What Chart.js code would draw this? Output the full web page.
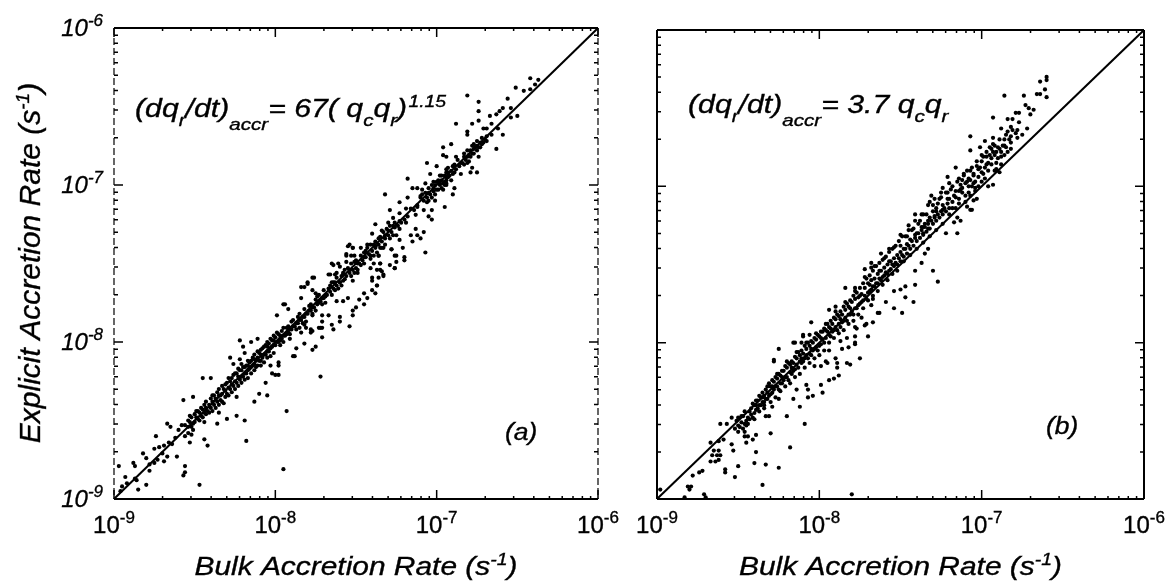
<!DOCTYPE html>
<html>
<head>
<meta charset="utf-8">
<style>
  html, body { margin: 0; padding: 0; background: #fff; overflow: hidden; }
  .panel { position: absolute; top: 0; height: 586px; }
  #chartA { left: 0; width: 625px; }
  #chartB { left: 625px; width: 549px; }
</style>
<script src="https://cdn.jsdelivr.net/npm/chart.js@4"></script>
</head>
<body>
<div class="panel" id="chartA"><canvas id="canvasA"></canvas></div>
<div class="panel" id="chartB"><canvas id="canvasB"></canvas></div>
<script>
// points are [bulk, explicit] in decades above 1e-9
const outliersA = [
  [.03,.21],[.12,.23],[.13,.21],[.18,.29],[.20,.26],[.07,.14],[.05,.08],[.04,.05],[.13,.13],[.15,.06],
  [.20,.09],[.22,.18],[.25,.23],[.31,.24],[.33,.27],[.25,.32],[.28,.33],[.31,.34],[.26,.40],[.33,.48],
  [.35,.46],[.36,.35],[.39,.27],[.44,.21],[.44,.17],[.43,.15],[.53,.09],[1.05,.19],[.82,.37],[.56,.38],
  [.58,.34],[.47,.36],[.46,.42],[.48,.41],[.56,.49],[.64,.48],[.70,.51],[.76,.53],[.81,.50],[1.07,.56],
  [.87,.62],[.90,.67],[.95,.66],[.76,.65],[.68,.61],[.65,.55],[.94,.74],[1.28,.78],[1.00,.79],[1.02,.79],
  [.98,.80],[.97,.85],[1.02,.85],[1.02,.87],[1.11,.91],[1.12,.91],[1.13,.96],[1.18,.99],[1.23,.95],[1.25,.97],
  [1.29,1.03],[1.16,1.06],[1.19,1.09],[1.23,1.07],[1.28,1.09],[1.35,1.11],[1.33,1.17],[1.06,1.24],[1.01,1.17],
  [.78,1.01],[.85,1.00],[.81,.93],[.72,.90],[.74,.86],[.78,.89],[.55,.77],[.60,.77],[.43,.63],[.49,.65],
  [1.18,1.11],[1.22,1.08],[1.22,1.06],[1.27,1.09],[1.29,1.09],[1.36,1.08],[1.40,1.13],[1.40,1.16],[1.46,1.10],
  [1.29,1.13],[1.29,1.17],[1.23,1.17],[1.48,1.17],[1.48,1.20],[1.50,1.22],[1.55,1.24],[1.42,1.26],[1.38,1.26],
  [1.45,1.28],[1.55,1.31],[1.52,1.27],[1.57,1.28],[1.60,1.33],[1.63,1.36],[1.62,1.31],[1.60,1.41],[1.67,1.42],
  [1.63,1.46],[1.66,1.45],[1.74,1.47],[1.71,1.49],[1.61,1.50],[1.65,1.50],[1.64,1.55],[1.72,1.59],[1.75,1.55],
  [1.46,1.62],[1.48,1.60],[1.44,1.56],[1.47,1.55],[1.35,1.50],[1.39,1.50],[1.33,1.43],[1.37,1.43],[1.24,1.41],
  [1.20,1.37],[1.18,1.35],[1.23,1.33],[1.25,1.31],[1.16,1.28],[1.05,1.24],[1.08,1.21],[.89,1.02],[.80,.97]
];
const upperA = [
  [2.58,2.68],[2.63,2.67],[2.49,2.62],[2.54,2.60],[2.58,2.61],[2.61,2.64],[2.19,2.57],[2.26,2.53],[2.26,2.47],
  [2.44,2.55],[2.41,2.49],[2.39,2.47],[2.46,2.49],[2.37,2.45],[2.33,2.44],[2.46,2.43],[2.50,2.44],[2.26,2.41],
  [2.22,2.39],[2.12,2.39],[2.34,2.39],[2.31,2.36],[2.29,2.36],[2.38,2.36],[2.41,2.32],[2.19,2.34],[2.19,2.32],
  [2.37,2.23],[2.28,2.30],[2.25,2.28],[2.22,2.25],[2.19,2.22],[2.31,2.28],[2.04,2.24],[2.09,2.26],[2.04,2.19],
  [2.06,2.18],[2.12,2.18],[2.17,2.20],[2.23,2.23],[2.26,2.18],[2.20,2.15],[2.17,2.13],[2.22,2.11],[2.25,2.08],
  [2.21,2.08],[2.15,2.07],[1.94,2.14],[2.00,2.12],[2.06,2.10],[2.10,2.12],[1.96,2.07],[2.02,2.06],[2.06,2.05],
  [1.98,2.02],[2.02,2.01],[2.06,2.01],[1.93,2.01],[1.82,2.04],[1.88,1.98],[1.85,1.98],[1.68,1.94],[1.98,1.98],
  [2.04,1.97],[2.11,1.98],[2.10,1.94],[2.06,2.00],[1.95,1.95],[1.90,1.93],[1.82,1.92],[1.77,1.89],[1.99,1.90],
  [1.94,1.89],[1.88,1.87],[1.81,1.85],[1.71,1.84],[2.05,1.86],[1.97,1.84],[1.92,1.84],[1.77,1.82],[1.87,1.81],
  [1.95,1.80],[1.97,1.78],[1.73,1.79],[1.70,1.76],[1.77,1.77],[1.81,1.76],[1.87,1.72],[1.62,1.75],[1.66,1.71],
  [1.70,1.71],[1.74,1.73],[1.77,1.72],[1.60,1.69],[1.68,1.68],[1.75,1.68],[1.84,1.68],[1.88,1.68],[1.92,1.70],
  [1.64,1.66],[1.77,1.65],[1.85,1.64],[1.90,1.66],[1.57,1.62],[1.62,1.61],[1.66,1.60],[1.79,1.60],[1.72,1.59],
  [1.45,1.61],[1.48,1.60],[1.53,1.60],[1.93,1.57],[1.64,1.55],[1.74,1.55],[1.80,1.54],[1.44,1.55],[1.49,1.55],
  [1.55,1.54],[1.59,1.55],[1.75,1.51],[1.80,1.52],[1.44,1.51],[1.51,1.50],[1.65,1.50],[1.74,1.47],[1.36,1.49],
  [1.40,1.48],[1.46,1.46],[1.59,1.47],[1.65,1.46],[1.67,1.43],[1.34,1.43],[1.38,1.44],[1.42,1.43],[1.51,1.44],
  [1.23,1.41],[1.20,1.38],[1.36,1.38],[1.40,1.38],[1.48,1.39],[1.63,1.36],[1.60,1.39],[1.64,1.41],[1.16,1.35]
];
const bandA = [
  [.08,.10],[.14,.12],[.22,.22],[.27,.25],[.30,.29],[.34,.36],[.38,.39],[.40,.44],[.42,.47],[.44,.47],[.46,.50],
  [.48,.46],[.48,.52],[.50,.49],[.50,.54],[.52,.51],[.54,.53],[.54,.58],[.56,.55],[.56,.60],[.58,.56],[.60,.58],
  [.60,.64],[.62,.60],[.62,.66],[.64,.62],[.64,.68],[.66,.63],[.66,.66],[.68,.70],[.70,.67],[.70,.74],[.72,.70],
  [.72,.75],[.74,.72],[.74,.79],[.76,.74],[.76,.80],[.78,.76],[.78,.82],[.80,.78],[.80,.84],[.82,.80],[.82,.85],
  [.84,.83],[.84,.87],[.86,.85],[.86,.90],[.88,.84],[.88,.88],[.90,.88],[.90,.93],[.92,.90],[.92,.96],[.94,.92],
  [.94,.98],[.96,.94],[.96,.99],[.98,.97],[.98,1.01],[1.00,.98],[1.00,1.03],[1.02,1.00],[1.02,1.05],[1.04,1.02],
  [1.04,1.07],[1.06,1.04],[1.08,1.06],[1.08,1.10],[1.10,1.08],[1.10,1.13],[1.12,1.10],[1.14,1.12],[1.14,1.16],
  [1.16,1.14],[1.18,1.16],[1.18,1.21],[1.20,1.18],[1.22,1.20],[1.22,1.24],[1.24,1.22],[1.26,1.24],[1.26,1.29],
  [1.28,1.26],[1.30,1.28],[1.30,1.33],[1.32,1.30],[1.34,1.32],[1.34,1.36],[1.36,1.34],[1.38,1.36],[1.38,1.41],
  [1.40,1.38],[1.42,1.39],[1.42,1.44],[1.44,1.42],[1.46,1.44],[1.48,1.46],[1.50,1.47],[1.50,1.52],[1.52,1.50],
  [1.54,1.52],[1.56,1.54],[1.56,1.58],[1.58,1.56],[1.60,1.58],[1.62,1.60],[1.62,1.64],[1.64,1.62],[1.66,1.64],
  [1.68,1.66],[1.68,1.62],[1.70,1.68],[1.72,1.70],[1.74,1.76],[1.76,1.74],[1.78,1.76],[1.80,1.78],[1.82,1.80],
  [1.84,1.85],[1.86,1.84],[1.88,1.86],[1.90,1.92],[1.92,1.90],[1.94,1.92],[1.96,1.94],[1.98,1.96],[2.00,2.02],
  [2.00,1.97],[2.02,2.00],[2.03,2.03],[2.04,2.01],[2.06,2.03],[2.06,2.08],[2.08,2.06],[2.10,2.07],[2.12,2.10],
  [2.14,2.12],[2.16,2.14],[2.18,2.16],[2.20,2.19],[2.22,2.20],[2.24,2.24],[2.26,2.24],[2.28,2.26],[2.30,2.29],[2.34,2.32]
];
const coreA = [
  [.44,.40],[.46,.46],[.47,.53],[.49,.48],[.51,.52],[.52,.56],[.53,.50],[.55,.57],[.57,.54],[.57,.62],[.59,.60],
  [.61,.56],[.61,.66],[.63,.64],[.65,.60],[.65,.70],[.67,.67],[.69,.65],[.69,.73],[.71,.71],[.73,.68],[.73,.77],
  [.75,.75],[.77,.72],[.77,.83],[.79,.78],[.79,.86],[.81,.80],[.81,.76],[.83,.82],[.83,.88],[.85,.84],[.85,.80],
  [.87,.86],[.87,.92],[.89,.90],[.89,.85],[.91,.88],[.91,.95],[.93,.92],[.93,.87],[.95,.94],[.95,1.00],[.97,.96],
  [.97,.91],[.99,.98],[.99,1.04],[1.01,1.00],[1.03,1.04],[1.03,.98],[1.05,1.04],[1.05,1.09],[1.07,1.05],[1.09,1.08],
  [1.09,1.02],[1.11,1.10],[1.13,1.12],[1.15,1.14],[1.15,1.09],[1.17,1.16],[1.19,1.18],[1.19,1.13],[1.21,1.20],
  [1.23,1.22],[1.25,1.20],[1.25,1.27],[1.27,1.25],[1.29,1.24],[1.31,1.29],[1.33,1.34],[1.35,1.30],[1.37,1.38],
  [1.39,1.34],[1.41,1.42],[1.43,1.40],[1.45,1.47],[1.47,1.42],[1.49,1.51],[1.51,1.46],[1.53,1.55],[1.55,1.50],
  [1.57,1.60],[1.59,1.53],[1.61,1.62],[1.63,1.57],[1.65,1.67],[1.67,1.60],[1.69,1.72],[1.71,1.66],[1.73,1.74],
  [1.91,1.94],[1.93,1.95],[1.95,1.98],[1.97,1.92],[1.99,2.00],[2.01,2.03],[2.03,1.98],[2.05,2.06],[2.05,2.02],
  [2.07,2.05],[2.07,2.11],[2.09,2.09],[2.11,2.13],[2.15,2.14],[2.17,2.18],[2.19,2.18],[2.21,2.22],[2.23,2.20],
  [2.25,2.25],[2.27,2.27],[2.29,2.27],[2.31,2.31]
];
const fillA = [
  [.47,.49],[.49,.44],[.51,.56],[.53,.55],[.55,.52],[.57,.58],[.59,.55],[.61,.62],[.63,.58],[.65,.66],[.67,.62],
  [.67,.72],[.69,.69],[.71,.66],[.71,.77],[.73,.73],[.75,.70],[.75,.80],[.77,.78],[.79,.74],[.79,.82],[.81,.84],
  [.83,.77],[.83,.85],[.85,.88],[.87,.82],[.87,.89],[.89,.94],[.91,.85],[.91,.92],[.93,.97],[.95,.90],[.95,.97],
  [.97,1.02],[.99,.93],[.99,1.01],[1.01,1.06],[1.03,1.01],[1.05,1.00],[1.07,1.09],[1.09,1.05],[1.11,1.14],[1.13,1.08],
  [1.15,1.18],[1.17,1.12],[1.21,1.23],[1.23,1.18],[1.27,1.30],[1.29,1.28],[1.31,1.25],[1.35,1.38],[1.37,1.33],
  [1.41,1.36],[1.43,1.46],[1.47,1.50],[1.49,1.44],[1.53,1.49],[1.55,1.57],[1.59,1.62],[1.61,1.55],[1.65,1.60],
  [1.67,1.70],[1.71,1.74],[1.73,1.68],[1.91,1.97],[1.95,1.90],[1.97,2.00],[1.99,1.94],[2.01,1.97],[2.03,2.06],
  [2.05,2.00],[2.07,2.08],[2.09,2.03],[2.11,2.08],[2.13,2.16],[2.19,2.14],[2.21,2.18],[2.23,2.26],[2.25,2.22],[2.27,2.24]
];
const outliersB = [
  [.02,.06],[.17,.01],[.29,.03],[.30,.01],[.19,.08],[.21,.08],[.20,.06],[.22,.15],[.26,.17],[.28,.18],[.33,.24],
  [.36,.24],[.38,.25],[.34,.28],[.37,.28],[.39,.28],[.33,.36],[.35,.31],[.38,.31],[.38,.37],[.41,.38],[.42,.17],
  [.42,.19],[.48,.14],[.50,.21],[.60,.23],[.67,.22],[.75,.20],[.65,.09],[1.20,.03],[.61,.30],[.47,.31],[.46,.35],
  [.55,.36],[.56,.40],[.61,.41],[.59,.38],[.70,.42],[.82,.33],[.91,.48],[.80,.53],[.88,.59],[.39,.48],[.43,.48],
  [.46,.52],[.50,.43],[.54,.43],[.54,.40],[.69,.53],[.67,.53],[.71,.59],[.66,.60],[.75,.64],[.84,.64],[.93,.65],
  [.96,.66],[.93,.70],[.86,.70],[1.02,.68],[1.01,.73],[.92,.73],[1.06,.76],[1.09,.77],[1.12,.79],[1.11,.84],
  [1.11,.87],[1.10,.90],[1.19,.86],[1.25,.90],[.97,.85],[1.01,.85],[1.04,.88],[.72,.88],[.75,.96],[.85,1.00],
  [.89,1.00],[.94,1.05],[.90,1.05],[.95,1.13],[1.06,.95],[1.14,.96],[1.17,1.03],[1.22,1.00],[1.30,1.04],[1.23,1.09],
  [1.28,1.11],[1.33,1.13],[1.37,1.19],[1.46,1.22],[1.51,1.19],[1.58,1.26],[.72,.89],[.84,1.00],[.90,1.04],[1.17,.87],
  [1.05,.87],[1.18,.97],[1.22,.99],[1.13,1.01],[1.22,1.04],[1.22,1.10],[1.29,1.12],[1.26,1.16],[1.36,1.19],[1.41,1.26],
  [1.32,1.24],[1.33,1.28],[1.46,1.33],[1.50,1.34],[1.53,1.29],[1.53,1.36],[1.59,1.37],[1.73,1.39],[1.70,1.46],
  [1.59,1.46],[1.63,1.51],[1.67,1.60],[1.65,1.57],[1.28,1.47],[1.32,1.51],[1.32,1.48],[1.43,1.60],[1.38,1.57],
  [1.16,1.35],[1.22,1.35],[1.06,1.21],[1.10,1.23]
];
const upperB = [
  [2.40,2.70],[2.40,2.68],[2.36,2.67],[2.39,2.62],[2.34,2.59],[2.36,2.59],[2.40,2.57],[2.26,2.58],[2.14,2.58],
  [2.27,2.52],[2.29,2.50],[2.32,2.49],[2.21,2.47],[2.23,2.47],[2.30,2.46],[2.07,2.44],[2.16,2.43],[2.19,2.43],
  [2.23,2.41],[2.18,2.38],[2.12,2.37],[2.28,2.37],[2.22,2.36],[2.25,2.33],[2.16,2.35],[2.18,2.32],[2.22,2.31],
  [2.14,2.30],[1.93,2.32],[2.07,2.31],[2.02,2.29],[1.99,2.25],[1.93,2.23],[2.05,2.25],[2.08,2.26],[2.11,2.24],
  [2.15,2.25],[2.07,2.22],[2.12,2.19],[2.03,2.19],[2.06,2.18],[2.00,2.16],[2.09,2.15],[2.03,2.14],[1.97,2.13],
  [1.84,2.12],[1.91,2.10],[2.09,2.11],[2.11,2.09],[1.95,2.08],[2.01,2.08],[1.89,2.07],[1.79,2.06],[1.86,2.05],
  [1.93,2.04],[2.00,2.03],[2.07,2.01],[2.04,2.00],[1.80,2.02],[1.87,2.01],[1.92,2.00],[1.96,1.99],[1.76,1.99],
  [1.84,1.97],[1.88,1.96],[1.93,1.94],[1.79,1.96],[1.69,1.94],[1.75,1.93],[1.97,1.92],[1.68,1.90],[1.73,1.89],
  [1.79,1.89],[1.86,1.89],[1.95,1.91],[1.91,1.87],[1.93,1.85],[1.94,1.85],[1.72,1.86],[1.76,1.85],[1.70,1.84],
  [1.82,1.86],[1.64,1.82],[1.59,1.82],[1.67,1.78],[1.71,1.81],[1.85,1.80],[1.87,1.78],[1.83,1.77],[1.55,1.75],
  [1.61,1.76],[1.65,1.76],[1.57,1.72],[1.63,1.74],[1.67,1.73],[1.78,1.70],[1.85,1.70],[1.50,1.69],[1.53,1.68],
  [1.59,1.69],[1.64,1.70]
];
const bandB = [
  [.48,.45],[.50,.47],[.52,.49],[.53,.45],[.55,.50],[.56,.52],[.58,.54],[.58,.58],[.60,.60],[.60,.55],[.62,.63],
  [.62,.58],[.64,.65],[.64,.60],[.66,.66],[.66,.62],[.68,.68],[.68,.64],[.70,.67],[.70,.72],[.72,.70],[.72,.75],
  [.74,.72],[.74,.77],[.76,.74],[.76,.79],[.78,.76],[.78,.82],[.80,.78],[.80,.84],[.82,.81],[.82,.86],[.84,.82],
  [.84,.87],[.86,.86],[.86,.90],[.88,.88],[.88,.92],[.90,.88],[.90,.93],[.92,.92],[.92,.96],[.94,.93],[.94,.98],
  [.96,.95],[.96,1.00],[.98,.97],[.98,1.02],[1.00,.98],[1.00,1.04],[1.02,1.02],[1.02,1.07],[1.04,1.03],[1.04,1.08],
  [1.06,1.05],[1.06,1.10],[1.08,1.07],[1.08,1.12],[1.10,1.10],[1.10,1.15],[1.12,1.12],[1.12,1.17],[1.14,1.13],
  [1.14,1.18],[1.16,1.16],[1.16,1.21],[1.18,1.18],[1.18,1.23],[1.20,1.20],[1.20,1.26],[1.22,1.22],[1.22,1.28],
  [1.24,1.24],[1.24,1.29],[1.26,1.26],[1.26,1.31],[1.28,1.30],[1.28,1.35],[1.30,1.32],[1.30,1.38],[1.32,1.34],
  [1.32,1.40],[1.34,1.36],[1.34,1.41],[1.36,1.38],[1.36,1.44],[1.38,1.40],[1.38,1.46],[1.40,1.43],[1.40,1.48],
  [1.42,1.44],[1.42,1.50],[1.44,1.47],[1.44,1.52],[1.46,1.49],[1.46,1.54],[1.48,1.50],[1.48,1.56],[1.50,1.52],
  [1.50,1.58],[1.52,1.55],[1.52,1.60],[1.54,1.57],[1.54,1.63],[1.56,1.60],[1.56,1.66],[1.58,1.62],[1.60,1.65],
  [1.60,1.70],[1.62,1.67],[1.64,1.69],[1.64,1.74],[1.66,1.71],[1.68,1.73],[1.68,1.80],[1.70,1.76],[1.72,1.78],
  [1.72,1.84],[1.74,1.80],[1.76,1.82],[1.76,1.88],[1.78,1.84],[1.80,1.86],[1.80,1.92],[1.82,1.90],[1.84,1.93],
  [1.86,1.92],[1.86,1.97],[1.88,1.99],[1.90,1.94],[1.90,2.02],[1.92,2.05],[1.94,2.00],[1.95,2.07],[1.96,2.03],
  [1.98,2.06],[1.98,2.11],[2.00,2.09],[2.02,2.12],[2.04,2.15],[2.04,2.10],[2.06,2.14],[2.08,2.20],[2.10,2.18],
  [2.12,2.22],[2.14,2.26],[2.16,2.22],[2.18,2.28]
];
const coreB = [
  [.50,.52],[.52,.53],[.54,.48],[.54,.56],[.56,.48],[.57,.56],[.59,.52],[.59,.61],[.61,.57],[.61,.63],[.63,.60],
  [.63,.66],[.65,.62],[.65,.68],[.67,.64],[.67,.70],[.69,.66],[.69,.74],[.71,.68],[.71,.76],[.73,.72],[.73,.78],
  [.75,.70],[.75,.80],[.77,.74],[.77,.82],[.79,.78],[.79,.85],[.81,.76],[.81,.87],[.83,.80],[.83,.88],[.85,.83],
  [.85,.91],[.87,.84],[.87,.94],[.89,.87],[.89,.95],[.91,.90],[.91,.98],[.93,.90],[.93,1.00],[.95,.92],[.95,1.01],
  [.97,.96],[.97,1.03],[.99,.95],[.99,1.05],[1.01,.99],[1.01,1.07],[1.03,1.00],[1.03,1.09],[1.05,1.07],[1.05,1.12],
  [1.07,1.04],[1.07,1.14],[1.09,1.08],[1.09,1.16],[1.11,1.08],[1.11,1.18],[1.13,1.10],[1.13,1.20],[1.15,1.14],
  [1.15,1.23],[1.17,1.14],[1.17,1.25],[1.19,1.18],[1.19,1.27],[1.21,1.18],[1.21,1.30],[1.23,1.22],[1.23,1.32],
  [1.25,1.25],[1.25,1.35],[1.27,1.27],[1.27,1.38],[1.29,1.28],[1.29,1.41],[1.31,1.33],[1.31,1.43],[1.33,1.36],
  [1.33,1.46],[1.35,1.38],[1.35,1.49],[1.37,1.41],[1.37,1.51],[1.39,1.42],[1.39,1.53],[1.41,1.45],[1.41,1.55],
  [1.43,1.46],[1.43,1.58],[1.45,1.50],[1.45,1.60],[1.47,1.51],[1.47,1.62],[1.49,1.54],[1.49,1.65],[1.51,1.56],
  [1.51,1.68],[1.53,1.60],[1.55,1.62],[1.55,1.72],[1.57,1.65],[1.59,1.67],[1.59,1.78],[1.61,1.70],[1.63,1.72],
  [1.63,1.82],[1.65,1.74],[1.67,1.76],[1.67,1.88],[1.69,1.78],[1.71,1.80],[1.71,1.92],[1.73,1.82],[1.75,1.84],
  [1.75,1.96],[1.77,1.86],[1.79,1.92],[1.81,1.98],[1.83,1.94],[1.85,2.03],[1.87,1.98],[1.89,2.08],[1.91,2.03],
  [1.93,2.10],[1.95,2.02],[1.97,2.16],[1.99,2.12],[2.01,2.19],[2.03,2.22],[2.05,2.20],[2.07,2.27],[2.09,2.22],
  [2.11,2.30],[2.13,2.26],[2.15,2.33],[2.17,2.30],[2.19,2.36],[2.21,2.34]
];
const fillB = [
  [.49,.50],[.51,.46],[.53,.53],[.55,.47],[.57,.51],[.60,.51],[.61,.60],[.63,.56],[.65,.65],[.66,.58],[.68,.72],
  [.70,.62],[.71,.72],[.73,.65],[.74,.80],[.76,.69],[.77,.78],[.79,.72],[.80,.88],[.82,.74],[.83,.84],[.85,.78],
  [.86,.94],[.88,.80],[.89,.90],[.91,.84],[.92,1.00],[.94,.87],[.95,.96],[.97,.90],[.98,1.06],[1.00,.92],[1.01,1.03],
  [1.03,.95],[1.04,1.12],[1.06,1.00],[1.07,1.09],[1.09,1.03],[1.10,1.20],[1.12,1.06],[1.13,1.15],[1.15,1.08],
  [1.16,1.26],[1.18,1.12],[1.19,1.22],[1.21,1.14],[1.22,1.33],[1.24,1.18],[1.25,1.30],[1.27,1.22],[1.28,1.42],
  [1.30,1.27],[1.31,1.37],[1.33,1.30],[1.34,1.49],[1.36,1.33],[1.37,1.46],[1.39,1.37],[1.40,1.54],[1.42,1.40],
  [1.43,1.52],[1.45,1.44],[1.46,1.61],[1.48,1.46],[1.50,1.62],[1.52,1.52],[1.54,1.68],[1.56,1.56],[1.58,1.73],
  [1.60,1.60],[1.62,1.78],[1.64,1.64],[1.66,1.82],[1.68,1.68],[1.70,1.88],[1.72,1.72],[1.74,1.92],[1.76,1.76],
  [1.78,1.96],[1.80,1.82],[1.82,2.00],[1.84,1.86],[1.88,2.04],[1.90,1.90],[1.92,1.96],[1.94,2.12],[1.96,1.97],
  [1.98,2.00],[2.00,2.20],[2.02,2.05],[2.06,2.24],[2.08,2.10],[2.10,2.25],[2.12,2.14],[2.14,2.20],[2.18,2.24]
];
const oneToOne = [1e-9, 1e-6];
const decadeTicks = [1e-9, 1e-8, 1e-7, 1e-6];
const decadeLabels = ['-9', '-8', '-7', '-6'];
const minorSteps = [2, 3, 4, 5, 6, 7, 8, 9];
const xTitle = 'Bulk Accretion Rate (s';
const yTitle = 'Explicit Accretion Rate (s';

const FONT = '"Liberation Sans", Arial, sans-serif';

function toRates(points) {
    return points.map(p => ({ x: 1e-9 * Math.pow(10, p[0]), y: 1e-9 * Math.pow(10, p[1]) }));
}

// draws text pieces one after the other: [text, font size, baseline shift, optional extra gap]
// stretch widens the glyphs, the scanned original is wider than it is tall
function drawPieces(ctx, pieces, x, y, style, stretch = 1) {
    ctx.save();
    ctx.translate(x, y);
    ctx.scale(stretch, 1);
    ctx.lineWidth = 0.35;
    let cx = 0;
    pieces.forEach(p => {
        ctx.font = `${style} ${p[1]}px ${FONT}`;
        ctx.fillText(p[0], cx, p[2] || 0);
        ctx.strokeText(p[0], cx, p[2] || 0);
        cx += ctx.measureText(p[0]).width + (p[3] || 0);
    });
    ctx.restore();
}

function piecesWidth(ctx, pieces, style, stretch = 1) {
    return stretch * pieces.reduce((w, p) => {
        ctx.font = `${style} ${p[1]}px ${FONT}`;
        return w + ctx.measureText(p[0]).width + (p[3] || 0);
    }, 0);
}

const frameAndLabels = {
    id: 'frameAndLabels',
    afterDatasetsDraw(chart, args, opts) {
        const ctx = chart.ctx;
        const xs = chart.scales.x, ys = chart.scales.y;
        const a = chart.chartArea;
        ctx.save();
        ctx.strokeStyle = '#000';
        ctx.fillStyle = '#000';
        ctx.textBaseline = 'alphabetic';
        ctx.textAlign = 'left';

        // frame
        ctx.lineWidth = 2;
        ctx.beginPath();
        ctx.moveTo(a.left, a.top); ctx.lineTo(a.right, a.top);
        ctx.moveTo(a.left, a.bottom); ctx.lineTo(a.right, a.bottom);
        ctx.stroke();
        ctx.lineWidth = opts.sideWidth;
        ctx.setLineDash(opts.sideDash);
        ctx.beginPath();
        ctx.moveTo(a.left, a.top); ctx.lineTo(a.left, a.bottom);
        ctx.moveTo(a.right, a.top); ctx.lineTo(a.right, a.bottom);
        ctx.stroke();
        ctx.setLineDash([]);

        // ticks on all four sides
        ctx.lineWidth = 1.5;
        ctx.beginPath();
        decadeTicks.forEach((t, i) => {
            const px = xs.getPixelForValue(t), py = ys.getPixelForValue(t);
            ctx.moveTo(px, a.top); ctx.lineTo(px, a.top + 9);
            ctx.moveTo(px, a.bottom); ctx.lineTo(px, a.bottom - 9);
            ctx.moveTo(a.left, py); ctx.lineTo(a.left + 9, py);
            ctx.moveTo(a.right, py); ctx.lineTo(a.right - 9, py);
            if (i === decadeTicks.length - 1) return;
            minorSteps.forEach(m => {
                const mx = xs.getPixelForValue(t * m), my = ys.getPixelForValue(t * m);
                ctx.moveTo(mx, a.top); ctx.lineTo(mx, a.top + 3);
                ctx.moveTo(mx, a.bottom); ctx.lineTo(mx, a.bottom - 3);
                ctx.moveTo(a.left, my); ctx.lineTo(a.left + 4, my);
                ctx.moveTo(a.right, my); ctx.lineTo(a.right - 4, my);
            });
        });
        ctx.stroke();

        // tick labels
        decadeTicks.forEach((t, i) => {
            const pieces = [['10', 24, 0], [decadeLabels[i], 17, -10]];
            const w = piecesWidth(ctx, pieces, 'normal');
            drawPieces(ctx, pieces, xs.getPixelForValue(t) - w / 2, a.bottom + 34, 'normal');
            if (opts.yLabels) {
                const yw = piecesWidth(ctx, pieces, 'italic');
                drawPieces(ctx, pieces, a.left - 11 - yw, ys.getPixelForValue(t) + 8, 'italic');
            }
        });

        // axis titles
        const xPieces = [[xTitle, 26, 0], ['-1', 17, -10], [')', 26, 0]];
        const xw = piecesWidth(ctx, xPieces, 'italic', 1.15);
        drawPieces(ctx, xPieces, (a.left + a.right) / 2 - xw / 2, 575, 'italic', 1.15);
        if (opts.yLabels) {
            const yPieces = [[yTitle, 30, 0], ['-1', 19, -11], [')', 30, 0]];
            const yw = piecesWidth(ctx, yPieces, 'italic');
            ctx.save();
            ctx.translate(40, 263 + yw / 2);
            ctx.rotate(-Math.PI / 2);
            drawPieces(ctx, yPieces, 0, 0, 'italic');
            ctx.restore();
        }

        // formula and panel letter
        drawPieces(ctx, opts.formula, opts.formulaX, opts.formulaY, 'italic', 1.21);
        drawPieces(ctx, [[opts.letter, 23, 0]], opts.letterX, opts.letterY, 'italic', 1.15);
        ctx.restore();
    }
};

function makePanel(id, points, padding, opts) {
    const noAxis = { ticks: { display: false }, grid: { display: false }, border: { display: false } };
    new Chart(document.getElementById(id), {
        type: 'scatter',
        data: {
            datasets: [{
                data: toRates(points),
                backgroundColor: '#000',
                borderWidth: 0,
                pointRadius: 2.1,
                clip: false
            }, {
                data: oneToOne.map(v => ({ x: v, y: v })),
                showLine: true,
                borderColor: '#000',
                borderWidth: 2,
                pointRadius: 0
            }]
        },
        options: {
            responsive: true,
            maintainAspectRatio: false,
            animation: false,
            layout: { padding: padding },
            plugins: { legend: { display: false }, tooltip: { enabled: false }, frameAndLabels: opts },
            scales: {
                x: { type: 'logarithmic', min: 1e-9, max: 1e-6, afterFit: s => { s.height = 0; }, ...noAxis },
                y: { type: 'logarithmic', min: 1e-9, max: 1e-6, afterFit: s => { s.width = 0; }, ...noAxis }
            }
        },
        plugins: [frameAndLabels]
    });
}

makePanel('canvasA', outliersA.concat(upperA, bandA, coreA, fillA), { left: 114, right: 27, top: 28, bottom: 87 }, {
    yLabels: true, sideWidth: 1.2, sideDash: [7, 3],
    formula: [['(dq', 25, 0], ['r', 17, 9], ['/dt)', 25, 0], ['accr', 17, 13], ['= 67( q', 25, 0], ['c', 17, 9], ['q', 25, 0], ['r', 17, 9], [')', 25, 0, 1], ['1.15', 16, -10]],
    formulaX: 135, formulaY: 117,
    letter: '(a)', letterX: 505, letterY: 440
});
makePanel('canvasB', outliersB.concat(upperB, bandB, coreB, fillB), { left: 32, right: 30, top: 30, bottom: 87 }, {
    yLabels: false, sideWidth: 2, sideDash: [],
    formula: [['(dq', 25, 0], ['r', 17, 9], ['/dt)', 25, 0], ['accr', 17, 13], ['= 3.7 q', 25, 0], ['c', 17, 9], ['q', 25, 0], ['r', 17, 9]],
    formulaX: 63, formulaY: 113,
    letter: '(b)', letterX: 421, letterY: 434
});
</script>
</body>
</html>
